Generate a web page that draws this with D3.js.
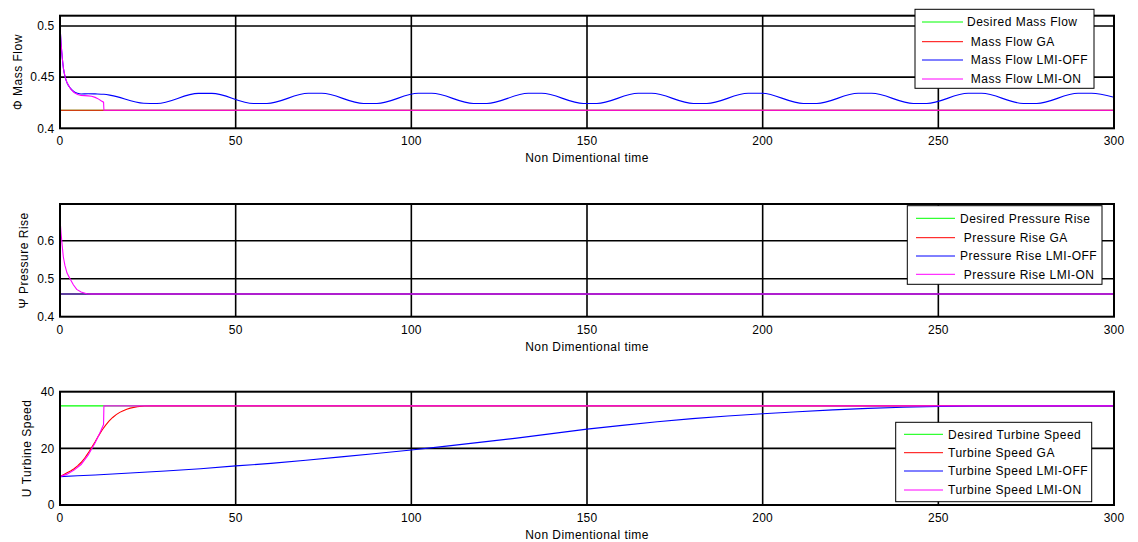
<!DOCTYPE html>
<html><head><meta charset="utf-8">
<script src="https://cdn.jsdelivr.net/npm/d3@7"></script>
<style>
body{margin:0;background:#fff;}
svg text{font-family:"Liberation Sans",Arial,sans-serif;fill:#000;white-space:pre;}
</style></head>
<body><svg id="c" width="1138" height="542"></svg>
<script>
// ---------- data ----------
const xTicks = [0, 50, 100, 150, 200, 250, 300];
const xLabel = "Non Dimentional time";

// Mass flow panel
const massYTicks = [0.4, 0.45, 0.5];
const massDesired = [[0, 0.4176], [300, 0.4176]];
const massGA = [[0, 0.4176], [300, 0.4176]];
const massOff = [[0,0.5],[0.3,0.483],[0.7,0.467],[1,0.458],[1.5,0.4495],[2,0.4445],[3,0.439],[4,0.4357],[5,0.4342],[6,0.4335],[8,0.4338],[10,0.4336],[12.5,0.4332],[14.5,0.4322],
  [23.8,0.4245],[27.6,0.4243],[39.4,0.4341],[43.2,0.4341],[55.1,0.4243],[58.9,0.4243],[70.7,0.4342],[74.5,0.4342],
  [86.4,0.4243],[90.2,0.4243],[102,0.4342],[105.8,0.4342],[117.7,0.4243],[121.5,0.4243],[133.3,0.4342],[137.1,0.4342],
  [149,0.4243],[152.8,0.4243],[164.6,0.4342],[168.4,0.4342],[180.3,0.4243],[184.1,0.4243],[195.9,0.4342],[199.7,0.4342],
  [211.6,0.4243],[215.4,0.4243],[227.2,0.4342],[231,0.4342],[242.9,0.4243],[246.7,0.4243],[258.5,0.4342],[262.3,0.4342],
  [274.2,0.4243],[278,0.4243],[289.8,0.4342],[293.6,0.4342],[300,0.4303]];
const massOn = [[0,0.5],[0.3,0.483],[0.7,0.467],[1,0.458],[1.5,0.4495],[2,0.4445],[3,0.4385],[4,0.435],[5,0.433],[6,0.4322],[8,0.4317],[9,0.4313],[10,0.4302],[11,0.4285],[11.8,0.4266],[12.4,0.4255],[12.5,0.4176],[300,0.4176]];
const massLabels = ["Desired Mass Flow", " Mass Flow GA", " Mass Flow LMI-OFF", " Mass Flow LMI-ON"];

// Pressure rise panel
const presYTicks = [0.4, 0.5, 0.6];
const presDesired = [[0, 0.46], [300, 0.46]];
const presGA = [[0, 0.46], [300, 0.46]];
const presOff = [[0, 0.483], [0.15, 0.46], [300, 0.46]];
const presOn = [[0,0.658],[0.3,0.62],[0.6,0.59],[0.94,0.558],[1.4,0.535],[2,0.515],[2.85,0.5],[3.8,0.484],[4.75,0.472],[6,0.465],[7.6,0.4605],[9,0.46],[300,0.46]];
const presLabels = ["Desired Pressure Rise", " Pressure Rise GA", "Pressure Rise LMI-OFF", " Pressure Rise LMI-ON"];

// Turbine speed panel
const speedYTicks = [0, 20, 40];
const speedDesired = [[0, 35], [300, 35]];
const speedGA = [[0,10],[1,10.7],[2,11.4],[3,12],[4,12.8],[5,13.8],[6,15],[7,16.5],[8,18.3],[9,20.3],[10,22.3],[11,24.5],[12,26.5],[13,28.2],[14,29.7],[15,30.9],[16,31.9],[17,32.7],[18,33.3],[19,33.8],[20,34.2],[22,34.7],[24,34.95],[26,35],[300,35]];
const speedOff = [[0,10],[5,10.3],[10,10.6],[20,11.3],[30,12],[40,12.8],[50,13.8],[60,14.7],[70,15.8],[80,17],[90,18.2],[100,19.4],[110,20.8],[120,22.2],[130,23.6],[140,25.2],[150,26.8],[160,28.1],[170,29.4],[180,30.5],[190,31.4],[200,32.2],[210,32.9],[220,33.6],[230,34.1],[240,34.5],[250,34.8],[260,35],[300,35]];
const speedOn = [[0,10],[2,10.9],[4,12.3],[6,14.3],[8,17.6],[10,22],[11,24.5],[12,27.3],[12.4,28.4],[12.5,35],[300,35]];
const speedLabels = ["Desired Turbine Speed", "Turbine Speed GA", "Turbine Speed LMI-OFF", "Turbine Speed LMI-ON"];

const colors = ["#00ff00", "#ff0000", "#0000ff", "#ff00ff"];

// ---------- layout ----------
const svg = d3.select("#c");
const x = d3.scaleLinear().domain([0, 300]).range([60, 1114]);

const panels = [
  {top: 15.7, bottom: 128.3, domain: [0.4, 0.51], yTicks: massYTicks, fmt: d => String(d), ylabel: "Φ Mass Flow", ylx: 22,
   series: [massDesired, massGA, massOff, massOn], labels: massLabels,
   leg: {x0: 915, y0: 9.3, x1: 1094, y1: 88.3, rows: [22, 41.7, 60, 79], lx0: 922, lx1: 963, tx: 967}, curve: [0,0,1,0]},
  {top: 204, bottom: 316.7, domain: [0.4, 0.697], yTicks: presYTicks, fmt: d => String(d), ylabel: "Ψ Pressure Rise", ylx: 27.5,
   series: [presDesired, presGA, presOff, presOn], labels: presLabels,
   leg: {x0: 907.3, y0: 205.7, x1: 1102, y1: 284.3, rows: [218.3, 237.7, 256, 274.3], lx0: 916, lx1: 955, tx: 960}, curve: [0,0,0,0]},
  {top: 391.7, bottom: 505, domain: [0, 40], yTicks: speedYTicks, fmt: d => String(d), ylabel: "U Turbine Speed", ylx: 30.5,
   series: [speedDesired, speedGA, speedOff, speedOn], labels: speedLabels,
   leg: {x0: 895.7, y0: 422.3, x1: 1091.7, y1: 501.7, rows: [434.3, 452.7, 471, 490], lx0: 904, lx1: 943, tx: 948}, curve: [0,0,0,0]}
];

panels.forEach(p => {
  const y = d3.scaleLinear().domain(p.domain).range([p.bottom, p.top]);
  const g = svg.append("g");
  // grid
  g.selectAll(".gx").data(xTicks.filter(t => t > 0 && t < 300)).enter().append("line")
    .attr("x1", d => x(d)).attr("x2", d => x(d)).attr("y1", p.top).attr("y2", p.bottom)
    .attr("stroke", "#000").attr("stroke-width", 1.6);
  g.selectAll(".gy").data(p.yTicks.filter(t => t > p.domain[0] && y(t) > p.top + 2)).enter().append("line")
    .attr("x1", 60).attr("x2", 1114).attr("y1", d => y(d)).attr("y2", d => y(d))
    .attr("stroke", "#000").attr("stroke-width", 1.6);
  // series
  const clipId = "clip" + p.top;
  svg.append("clipPath").attr("id", clipId).append("rect")
    .attr("x", 60).attr("y", p.top).attr("width", 1054).attr("height", p.bottom - p.top);
  p.series.forEach((s, i) => {
    const line = d3.line().x(d => x(d[0])).y(d => y(d[1]))
      .curve(p.curve[i] ? d3.curveMonotoneX : d3.curveLinear);
    g.append("path").datum(s).attr("d", line).attr("fill", "none")
      .attr("stroke", colors[i]).attr("stroke-width", 1.1).attr("clip-path", `url(#${clipId})`);
  });
  // box
  g.append("rect").attr("x", 60).attr("y", p.top).attr("width", 1054).attr("height", p.bottom - p.top)
    .attr("fill", "none").attr("stroke", "#000").attr("stroke-width", 2);
  // tick labels
  g.selectAll(".xt").data(xTicks).enter().append("text")
    .attr("x", d => x(d)).attr("y", p.bottom + 17).attr("text-anchor", "middle")
    .attr("font-size", 12).attr("letter-spacing", 0.2).text(d => d);
  g.selectAll(".yt").data(p.yTicks).enter().append("text")
    .attr("x", 54.5).attr("y", d => y(d) + 4.3).attr("text-anchor", "end")
    .attr("font-size", 12).attr("letter-spacing", 0.2).text(p.fmt);
  // axis labels
  g.append("text").attr("x", x(150)).attr("y", p.bottom + 34).attr("text-anchor", "middle")
    .attr("font-size", 12).attr("letter-spacing", 0.45).text(xLabel);
  g.append("text").attr("transform", `translate(${p.ylx},${(p.top + p.bottom) / 2}) rotate(-90)`)
    .attr("text-anchor", "middle").attr("font-size", 12).attr("letter-spacing", 0.5).text(p.ylabel);
  // legend
  const L = p.leg;
  g.append("rect").attr("x", L.x0).attr("y", L.y0).attr("width", L.x1 - L.x0).attr("height", L.y1 - L.y0)
    .attr("fill", "#fff").attr("stroke", "#000").attr("stroke-width", 1);
  p.labels.forEach((lab, i) => {
    g.append("line").attr("x1", L.lx0).attr("x2", L.lx1).attr("y1", L.rows[i]).attr("y2", L.rows[i])
      .attr("stroke", colors[i]).attr("stroke-width", 1);
    g.append("text").attr("x", L.tx).attr("y", L.rows[i] + 4.3).attr("font-size", 12)
      .attr("letter-spacing", 0.5).text(lab);
  });
});
</script></body></html>
